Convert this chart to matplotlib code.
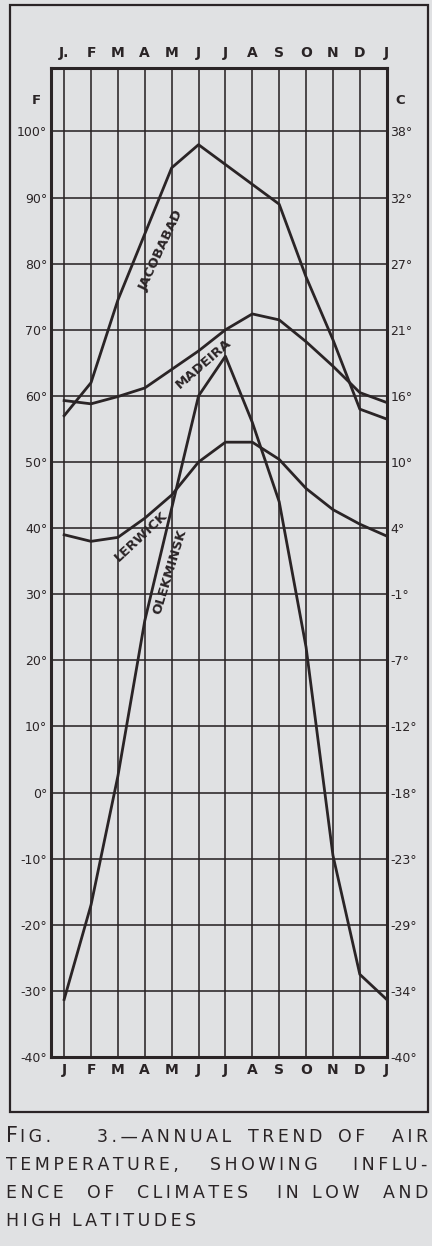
import matplotlib.pyplot as plt
from matplotlib.patches import Rectangle

# month positions 0..12 (Jan .. next Jan)
months = list(range(13))
top_labels = ["J.", "F", "M", "A", "M", "J", "J", "A", "S", "O", "N", "D", "J"]
bottom_labels = ["J", "F", "M", "A", "M", "J", "J", "A", "S", "O", "N", "D", "J"]

# mean monthly temperature, deg F
jacobabad = [57, 62, 74.5, 84.5, 94.5, 98, 95, 92, 89, 78, 68.5, 58, 56.5]
madeira = [59.3, 58.8, 59.9, 61.2, 64, 66.8, 70, 72.4, 71.5, 68.2, 64.5, 60.5, 59]
lerwick = [39, 38, 38.6, 41.5, 45, 50, 53, 53, 50.4, 46, 42.8, 40.6, 38.8]
olekminsk = [-31.3, -17, 2.5, 26, 43, 60, 66, 56, 44, 22, -9.5, -27.5, -31.3]

f_ticks = [100, 90, 80, 70, 60, 50, 40, 30, 20, 10, 0, -10, -20, -30, -40]
c_labels = ["38°", "32°", "27°", "21°", "16°", "10°", "4°", "-1°", "-7°",
            "-12°", "-18°", "-23°", "-29°", "-34°", "-40°"]

caption = [
    ["FIG.", "3.—ANNUAL", "TREND", "OF", "AIR"],
    ["TEMPERATURE,", "SHOWING", "INFLU-"],
    ["ENCE", "OF", "CLIMATES", "IN", "LOW", "AND"],
    ["HIGH", "LATITUDES"],
]

bg = "#e0e1e3"
ink = "#2a2426"
W, H = 432, 1246

fig = plt.figure(figsize=(W / 100, H / 100), dpi=100, facecolor=bg)

# outer box round the figure
fig.patches.append(Rectangle((10 / W, 1 - 1112 / H), 418 / W, 1107 / H,
                             transform=fig.transFigure, fill=False, lw=1.6, ec=ink))

ax = fig.add_axes([50.7 / W, 1 - 1057 / H, 336 / W, 989 / H])
ax.set_facecolor(bg)
ax.set_xlim(-0.5, 12)
ax.set_ylim(-40, 109.6)

for y in (jacobabad, madeira, lerwick, olekminsk):
    ax.plot(months, y, color=ink, lw=2, zorder=3)

ax.set_xticks(months)
ax.set_xticklabels(bottom_labels, fontsize=10, fontweight="bold", color=ink)
ax.set_yticks(f_ticks)
ax.set_yticklabels([f"{t}°" for t in f_ticks], fontsize=9, color=ink)
ax.tick_params(length=0, pad=2.5, colors=ink)
ax.tick_params(axis="x", pad=4)
ax.grid(True, color=ink, lw=1.15)
for s in ax.spines.values():
    s.set_linewidth(2.2)
    s.set_color(ink)

top = ax.secondary_xaxis("top")
top.set_xticks(months)
top.set_xticklabels(top_labels, fontsize=10, fontweight="bold", color=ink)
top.tick_params(length=0, pad=6)
top.spines["top"].set_visible(False)

right = ax.twinx()
right.set_ylim(ax.get_ylim())
right.set_yticks(f_ticks)
right.set_yticklabels(c_labels, fontsize=9, color=ink)
right.tick_params(length=0, pad=2.5)
for s in right.spines.values():
    s.set_visible(False)

fig.text(36 / W, 1 - 100 / H, "F", fontsize=9.5, fontweight="bold", color=ink,
         ha="center", va="center")
fig.text(400 / W, 1 - 100 / H, "C", fontsize=9.5, fontweight="bold", color=ink,
         ha="center", va="center")

# station names written along the curves
lab = dict(fontsize=9.5, fontweight="bold", color=ink, ha="center", va="center",
           rotation_mode="anchor", zorder=4)
ax.text(3.6, 82.0, "JACOBABAD", rotation=65, **lab)
ax.text(5.2, 64.9, "MADEIRA", rotation=41, **lab)
ax.text(2.85, 38.8, "LERWICK", rotation=43, **lab)
ax.text(3.95, 33.4, "OLEKMINSK", rotation=73, **lab)

# caption, roughly justified word by word
def spaced(w):
    return "\u2009".join(w)

cap = dict(fontsize=12.5, color=ink, va="center")
line_y = [1137, 1165, 1193, 1221]
word_x = [
    [None, 97, 248, 338, 428],
    [6, 210, 427],
    [6, 87, 137, 277, 312, 428],
    [6, 72],
]
for li, words in enumerate(caption):
    y = 1 - line_y[li] / H
    for wi, w in enumerate(words):
        x = word_x[li][wi]
        last = wi == len(words) - 1 and li < 3
        if w == "FIG.":
            fig.text(6 / W, y + 1 / H, "F", fontsize=15, color=ink, va="center")
            fig.text(20 / W, y, spaced("IG."), **cap)
            continue
        fig.text(x / W, y, spaced(w), ha="right" if last else "left", **cap)

fig.savefig("out.png", dpi=100, facecolor=bg)
